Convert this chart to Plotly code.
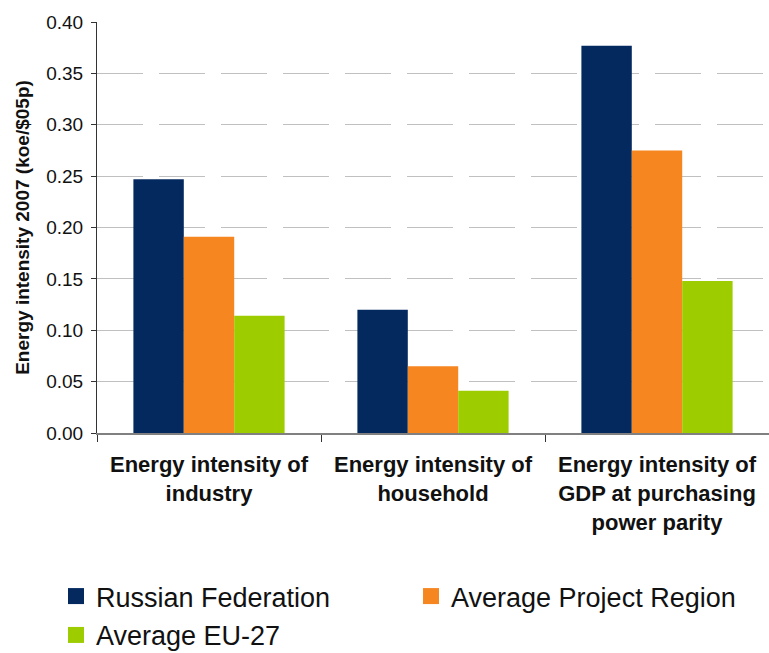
import plotly.graph_objects as go

categories = ["Energy intensity of<br>industry", "Energy intensity of<br>household",
              "Energy intensity of<br>GDP at purchasing<br>power parity"]
series_names = ["Russian Federation", "Average Project Region", "Average EU-27"]
russia = [0.247, 0.120, 0.377]
project_region = [0.191, 0.065, 0.275]
eu27 = [0.114, 0.041, 0.148]
colors = ["#03295F", "#F58620", "#9DCC00"]
y_ticks = [0.0, 0.05, 0.10, 0.15, 0.20, 0.25, 0.30, 0.35, 0.40]

fig = go.Figure()
for name, vals, col in zip(series_names, [russia, project_region, eu27], colors):
    fig.add_trace(go.Bar(x=categories, y=vals, name=name, showlegend=False,
                         marker=dict(color=col, line=dict(width=0))))
# legend entries with large square swatches, one legend box per entry
legend_ids = ["legend", "legend2", "legend3"]
for name, col, lg in zip(series_names, colors, legend_ids):
    fig.add_trace(go.Scatter(x=[None], y=[None], mode="markers", name=name, legend=lg,
                             marker=dict(symbol="square", size=17, color=col)))

legend_font = dict(size=27, family="Liberation Sans, Arial", color="#111111")
legend_common = dict(orientation="h", xref="container", yref="container",
                     xanchor="left", yanchor="top", font=legend_font,
                     itemwidth=30, itemsizing="trace", bgcolor="rgba(0,0,0,0)")

fig.update_layout(
    width=769, height=653,
    margin=dict(l=97, r=0, t=22, b=220),
    barmode="group", bargap=0.325, bargroupgap=0,
    plot_bgcolor="white", paper_bgcolor="white",
    font=dict(family="Liberation Sans, Arial", color="#111111"),
    showlegend=True,
    legend=dict(x=0.0728, y=0.124, **legend_common),
    legend2=dict(x=0.5345, y=0.124, **legend_common),
    legend3=dict(x=0.0728, y=0.0645, **legend_common),
)
fig.update_yaxes(range=[0, 0.4], tickvals=y_ticks, tickformat=".2f", automargin=False,
                 tickfont=dict(size=19), showgrid=True, gridcolor="#C0C0C0",
                 griddash="46px,16px", gridwidth=1,
                 showline=True, linecolor="#333333", linewidth=1,
                 ticks="outside", ticklen=5, tickcolor="#333333",
                 ticklabelstandoff=4, zeroline=False,
                 title=dict(text="<b>Energy intensity 2007 (koe/$05p)</b>", font=dict(size=19), standoff=11))
fig.update_xaxes(tickfont=dict(size=22), tickson="boundaries", ticks="outside", ticklen=7,
                 tickcolor="#333333", showline=True, linecolor="#808080", linewidth=2,
                 ticklabelstandoff=11,
                 automargin=False, tickprefix="<b>", ticksuffix="</b>")
fig.write_html("out.html", post_script="document.body.style.margin='0';",
               config={"displayModeBar": False})
